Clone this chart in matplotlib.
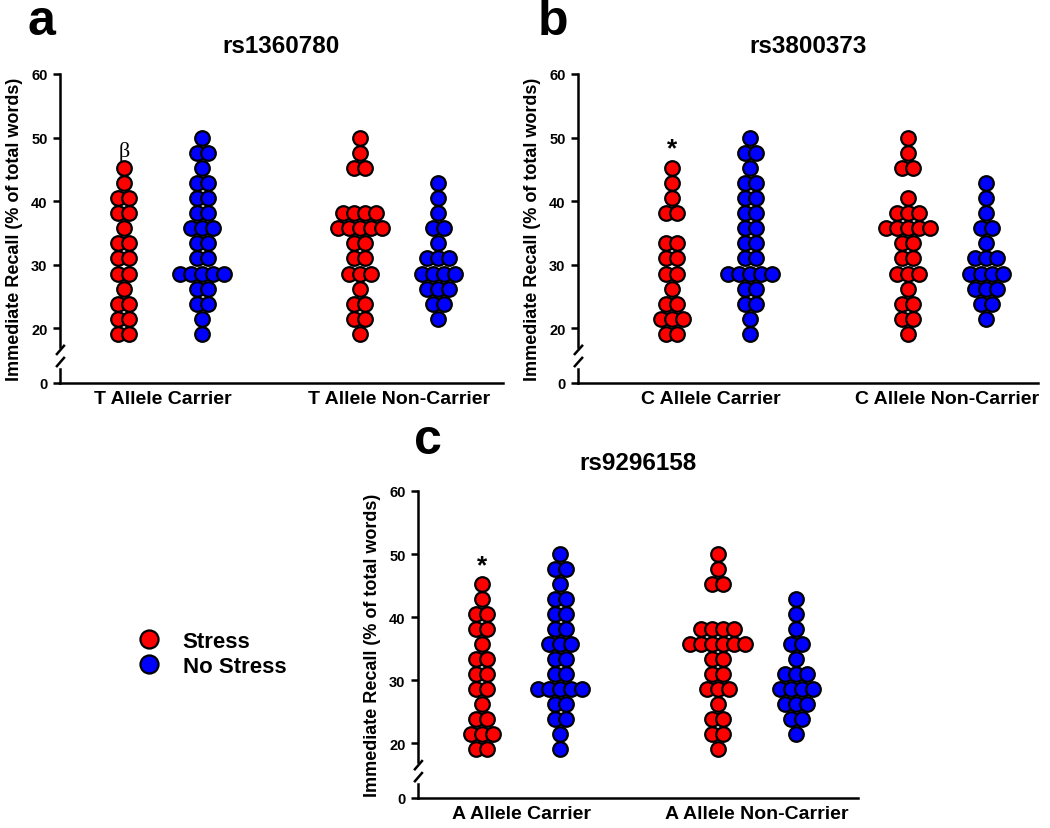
import numpy as np
import matplotlib
matplotlib.use('Agg')
import matplotlib.pyplot as plt
from matplotlib.lines import Line2D

plt.rcParams['font.family'] = ['Liberation Sans', 'DejaVu Sans']
plt.rcParams['font.weight'] = 'bold'

W, H = 1050, 829
RED, BLUE = '#ff0000', '#0000ff'

# scores are k/42 words -> percent; counts below are for k = 8..21
levels = np.arange(8, 22) / 42 * 100

a_stress_carrier = [2, 2, 2, 1, 2, 2, 2, 1, 2, 2, 1, 1, 0, 0]
a_nostress_carrier = [1, 1, 2, 2, 5, 2, 2, 3, 2, 2, 2, 1, 2, 1]
a_stress_non = [1, 2, 2, 1, 3, 2, 2, 5, 4, 0, 0, 2, 1, 1]
a_nostress_non = [0, 1, 2, 3, 4, 3, 1, 2, 1, 1, 1, 0, 0, 0]

b_stress_carrier = [2, 3, 2, 1, 2, 2, 2, 0, 2, 1, 1, 1, 0, 0]
b_nostress_carrier = [1, 1, 2, 2, 5, 2, 2, 2, 2, 2, 2, 1, 2, 1]
b_stress_non = [1, 2, 2, 1, 3, 2, 2, 5, 3, 1, 0, 2, 1, 1]
b_nostress_non = [0, 1, 2, 3, 4, 3, 1, 2, 1, 1, 1, 0, 0, 0]

c_stress_carrier = [2, 3, 2, 1, 2, 2, 2, 1, 2, 2, 1, 1, 0, 0]
c_nostress_carrier = [1, 1, 2, 2, 5, 2, 2, 3, 2, 2, 2, 1, 2, 1]
c_stress_non = [1, 2, 2, 1, 3, 2, 2, 6, 4, 0, 0, 2, 1, 1]
c_nostress_non = [0, 1, 2, 3, 4, 3, 1, 2, 1, 1, 1, 0, 0, 0]

panels = [
    ('a', 'rs1360780', ['T Allele Carrier', 'T Allele Non-Carrier'],
     [a_stress_carrier, a_nostress_carrier, a_stress_non, a_nostress_non], '\u03b2'),
    ('b', 'rs3800373', ['C Allele Carrier', 'C Allele Non-Carrier'],
     [b_stress_carrier, b_nostress_carrier, b_stress_non, b_nostress_non], '*'),
    ('c', 'rs9296158', ['A Allele Carrier', 'A Allele Non-Carrier'],
     [c_stress_carrier, c_nostress_carrier, c_stress_non, c_nostress_non], '*'),
]

# pixel boxes: left spine, right end, y of 60, y of 0, x of first group centre
boxes = [(60, 503, 75, 384, 163), (578, 1038, 75, 384, 711), (418, 858, 492, 799, 521)]
letter_pos = [(41, 22), (553, 22), (428, 441)]

Y0 = 11.34  # where the "0" tick sits below the break
PX_PER_X = 236.0
GAP_PX = 11.0
OFFSET = 0.166


def swarm(counts):
    xs, ys = [], []
    for lev, n in zip(levels, counts):
        for i in range(n):
            xs.append((i - (n - 1) / 2) * GAP_PX / PX_PER_X)
            ys.append(lev)
    return np.array(xs), np.array(ys)


fig = plt.figure(figsize=(W / 100, H / 100), dpi=100)

for (letter, title, cats, groups, mark), (l, r, t, b, c1), lp in zip(panels, boxes, letter_pos):
    ax = fig.add_axes([l / W, 1 - b / H, (r - l) / W, (b - t) / H])
    # x data: group centres at 1 and 2
    x_left = 1 - (c1 - l) / PX_PER_X
    ax.set_xlim(x_left, x_left + (r - l) / PX_PER_X)
    ax.set_ylim(Y0, 60)

    for gi, counts in enumerate(groups):
        centre = 1 + gi // 2
        pos = centre + (-OFFSET if gi % 2 == 0 else OFFSET)
        col = RED if gi % 2 == 0 else BLUE
        xs, ys = swarm(counts)
        ax.plot(pos + xs, ys, 'o', ms=10.5, mfc=col, mec='black', mew=1.6,
                clip_on=False, zorder=3)

    # significance mark above first stress column
    top = levels[np.nonzero(groups[0])[0].max()]
    if mark == '*':
        ax.text(1 - OFFSET, top + 3.0, mark, ha='center', va='center',
                fontsize=19, fontweight='bold')
    else:
        ax.text(1 - OFFSET, top + 2.6, mark, ha='center', va='center',
                fontsize=16, fontweight='normal', family='Liberation Serif')

    for s in ['top', 'right', 'left']:
        ax.spines[s].set_visible(False)
    ax.spines['bottom'].set_linewidth(1.8)

    # left spine with axis break
    tr = ax.get_yaxis_transform()
    ax.plot([0, 0], [17.0, 60], color='black', lw=1.8, transform=tr, clip_on=False)
    ax.plot([0, 0], [Y0, 13.6], color='black', lw=1.8, transform=tr, clip_on=False)
    for y in (14.0, 15.9):
        ax.plot([-0.007, 0.009], [y, y + 1.3], color='black', lw=1.8,
                transform=tr, clip_on=False)

    ax.set_yticks([Y0, 20, 30, 40, 50, 60])
    ax.set_yticklabels(['0', '20', '30', '40', '50', '60'])
    ax.tick_params(axis='y', direction='out', length=5, width=1.8, labelsize=10.5, pad=4)
    ax.set_xticks([1, 2])
    ax.set_xticklabels(cats)
    ax.tick_params(axis='x', length=0, labelsize=14, pad=5)
    for lab in ax.get_xticklabels() + ax.get_yticklabels():
        lab.set_fontweight('bold')
    ax.set_ylabel('Immediate Recall (% of total words)', fontsize=13,
                  fontweight='bold', labelpad=6)
    ax.set_title(title, fontsize=17.5, fontweight='bold', pad=16)
    fig.text(lp[0] / W, 1 - lp[1] / H, letter, fontsize=36,
             fontweight='bold', ha='center', va='center')

handles = [Line2D([], [], marker='o', ls='none', ms=13, mfc=RED, mec='black', mew=1.6),
           Line2D([], [], marker='o', ls='none', ms=13, mfc=BLUE, mec='black', mew=1.6)]
fig.legend(handles, ['Stress', 'No Stress'], loc='center left',
           bbox_to_anchor=(107 / W, 1 - 655 / H), frameon=False,
           prop={'weight': 'bold', 'size': 16}, handletextpad=0.5,
           labelspacing=0.2)

fig.savefig('out.png', dpi=100)
